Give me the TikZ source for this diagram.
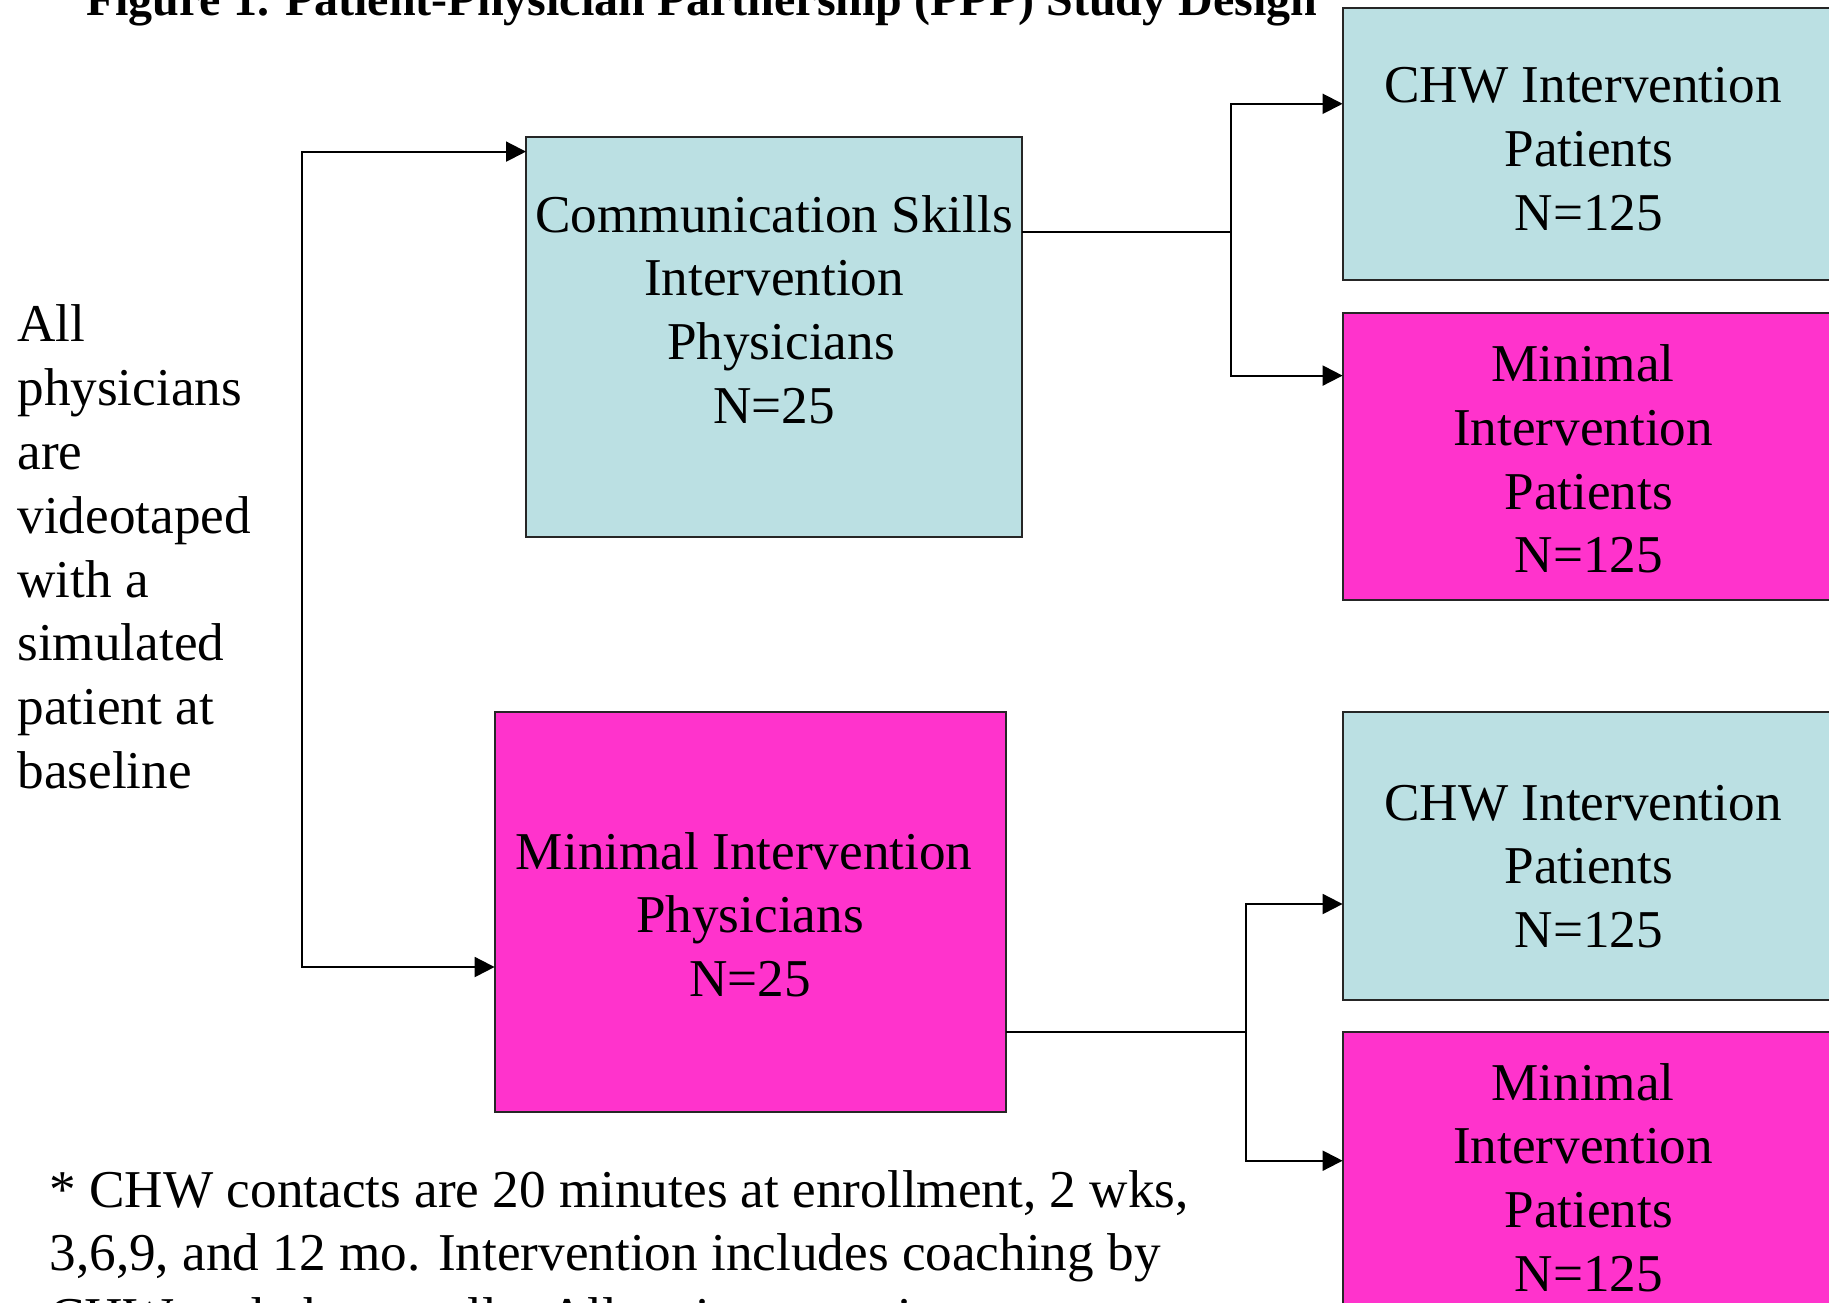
\documentclass[tikz,border=0pt]{standalone}
\usepackage{fontspec}
\setmainfont{Liberation Serif}
\usetikzlibrary{arrows.meta}
\definecolor{pblue}{HTML}{BBE0E3}
\definecolor{pmag}{HTML}{FF33CC}
\newcommand\tst{\rule{0pt}{24pt}}
\newcommand\lsh{\hspace*{5.8pt}}
\begin{document}
\begin{tikzpicture}[x=0.5pt,y=-0.5pt,
  box/.style={draw=black!85, line width=1pt, anchor=north west, inner sep=0pt, outer sep=0pt},
  bluebox/.style={box, fill=pblue},
  magbox/.style={box, fill=pmag},
  txt/.style={inner sep=0pt, outer sep=0pt, align=center, anchor=north, font=\fontsize{26.6}{31.9}\selectfont},
  ltxt/.style={txt, align=left, anchor=north west},
  conn/.style={line width=1pt, black},
  arr/.style={conn, -{Triangle[length=10pt,width=10pt]}}]
\clip (0,0) rectangle (1829,1302);
\fill[white] (0,0) rectangle (1829,1302);

% boxes
\node[bluebox, minimum width=248pt, minimum height=200.05pt] (cs) at (526,136.5) {};
\node[magbox, minimum width=255.45pt, minimum height=200.05pt] (mi) at (494.6,711.6) {};
\node[bluebox, minimum width=260pt, minimum height=135.9pt] (r1) at (1342.6,8.2) {};
\node[magbox, minimum width=260pt, minimum height=143.5pt] (r2) at (1342.6,312.6) {};
\node[bluebox, minimum width=260pt, minimum height=144.05pt] (r3) at (1342.6,711.6) {};
\node[magbox, minimum width=260pt, minimum height=200pt] (r4) at (1342.6,1032.3) {};

% texts
\node[inner sep=0pt, anchor=base west, font=\bfseries\fontsize{24}{28}\selectfont] (title) at (85.7,15) {Figure 1. Patient-Physician Partnership (PPP) Study Design};
\node[txt] (cst) at (774,184) {\tst Communication Skills\\Intervention\\\hspace*{7pt}Physicians\\N=25};
\node[txt] (mit) at (750,821) {\tst Minimal Intervention\lsh\\Physicians\\N=25};
\node[txt] (r1t) at (1583,54.6) {\tst CHW Intervention\\\lsh Patients\\\lsh N=125};
\node[txt] (r2t) at (1583,333.4) {\tst Minimal\\Intervention\\\lsh Patients\\\lsh N=125};
\node[txt] (r3t) at (1583,772) {\tst CHW Intervention\\\lsh Patients\\\lsh N=125};
\node[txt] (r4t) at (1583,1052) {\tst Minimal\\Intervention\\\lsh Patients\\\lsh N=125};
\node[ltxt] (left) at (17.5,293.8) {\tst All\\physicians\\are\\videotaped\\with a\\simulated\\patient at\\baseline};
\node[ltxt] (note) at (49.5,1159) {\tst * CHW contacts are 20 minutes at enrollment, 2 wks,\\3,6,9, and 12 mo. Intervention includes coaching by\\CHW and phone calls. All patients receive};

% connectors
\coordinate (lt) at (302,151.6);
\coordinate (lb) at (302,967);
\draw[arr] (lb) -- (lt) -- (lt -| cs.west);
\draw[arr] (lt) -- (lb) -- (lb -| mi.west);

\coordinate (j1) at (1230.7,232.1);
\coordinate (a1) at (1230.7,103.8);
\coordinate (a2) at (1230.7,375.6);
\draw[conn] (cs.east |- j1) -- (j1);
\draw[arr] (a2) -- (a1) -- (a1 -| r1.west);
\draw[arr] (a1) -- (a2) -- (a2 -| r2.west);

\coordinate (j2) at (1245.8,1032.3);
\coordinate (b1) at (1245.8,904);
\coordinate (b2) at (1245.8,1160.7);
\draw[conn] (mi.east |- j2) -- (j2);
\draw[arr] (b2) -- (b1) -- (b1 -| r3.west);
\draw[arr] (b1) -- (b2) -- (b2 -| r4.west);
\end{tikzpicture}
\end{document}
